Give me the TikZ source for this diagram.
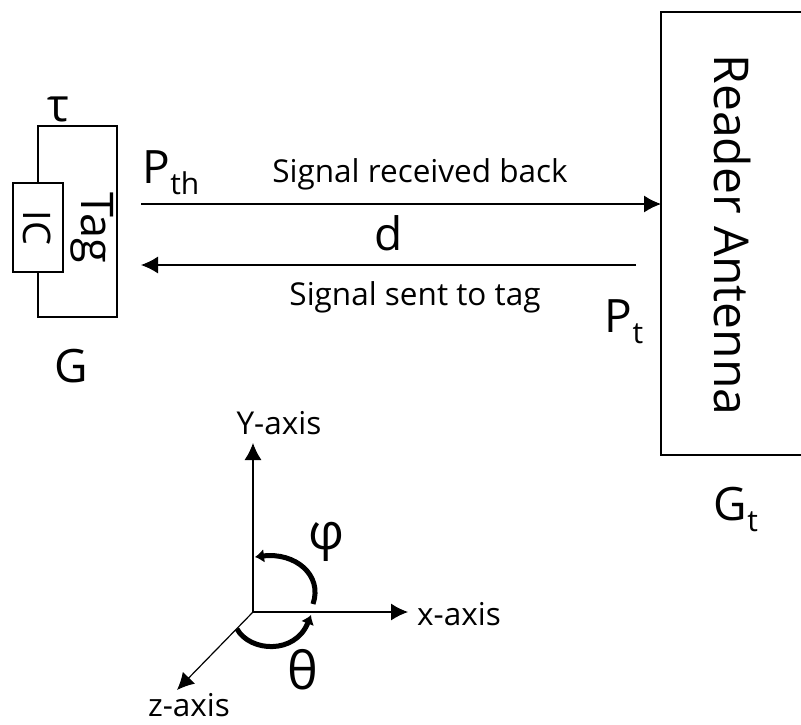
\documentclass[tikz,border=0pt]{standalone}
\usepackage{fontspec}
\setmainfont{Open Sans}
\usetikzlibrary{arrows.meta}
\pgfdeclarelayer{edgelayer}
\pgfdeclarelayer{nodelayer}
\pgfsetlayers{edgelayer,nodelayer,main}
\newcommand{\lowtext}[1]{\raisebox{-11pt}{\fontsize{30}{30}\selectfont #1}}
\tikzstyle{box}=[rectangle, draw=black, line width=2pt, inner sep=0pt]
\tikzstyle{wire}=[-, draw=black, line width=2pt]
\tikzstyle{arrow}=[-{Latex[length=17pt,width=17pt]}, draw=black, line width=1.2pt]
\tikzstyle{curl}=[-{Latex[length=9pt,width=14pt]}, draw=black, line width=5pt]
\tikzstyle{big}=[inner sep=0pt, font=\fontsize{46}{46}\selectfont]
\tikzstyle{small}=[inner sep=0pt, font=\fontsize{31.5}{31.5}\selectfont]
\begin{document}
\begin{tikzpicture}[x=1pt,y=-1pt]
            \useasboundingbox (0,0) rectangle (801,724);
            \begin{pgfonlayer}{nodelayer}
                \node [style=box, minimum width=50pt, minimum height=89pt] (IC) at (38, 227.5) {};
                \node [style=box, minimum width=146pt, minimum height=443pt] (reader) at (734, 233.5) {};
                \node [style=small, rotate=-90] (IClabel) at (37, 228) {\fontsize{38}{38}\selectfont IC};
                \node [style=small, rotate=-90] (taglabel) at (92, 228) {\fontsize{45}{45}\selectfont Tag};
                \node [style=big, rotate=-90] (readerlabel) at (732, 235) {\fontsize{48}{48}\selectfont Reader Antenna};
                \node [style=big] (tau) at (58, 109) {τ};
                \node [style=big] (Pth) at (171, 173) {P\lowtext{th}};
                \node [style=big] (Pt) at (624, 322) {P\lowtext{t}};
                \node [style=big] (G) at (71, 366) {G};
                \node [style=big] (Gt) at (736, 509) {G\lowtext{t}};
                \node [style=big] (d) at (389, 233) {d};
                \node [style=small] (back) at (420, 174) {Signal received back};
                \node [style=small] (sent) at (415, 297) {Signal sent to tag};
                \node [style=small] (ylabel) at (279, 423) {Y-axis};
                \node [style=small] (xlabel) at (459, 614) {x-axis};
                \node [style=small] (zlabel) at (189, 705) {z-axis};
                \node [style=big] (phi) at (326, 542) {\fontsize{50}{50}\selectfont φ};
                \node [style=big] (theta) at (303, 670) {\fontsize{52}{52}\selectfont θ};
                \coordinate (tagtop) at (117, 126);
                \coordinate (tagbottom) at (117, 317);
                \coordinate (backstart) at (141, 204);
                \coordinate (backend) at (661, 204);
                \coordinate (sentstart) at (636, 265);
                \coordinate (sentend) at (141, 265);
                \coordinate (origin) at (253, 612);
                \coordinate (ytip) at (253, 443);
                \coordinate (xtip) at (408, 612);
                \coordinate (ztip) at (177, 690);
                \coordinate (phistart) at (313, 604);
                \coordinate (phiend) at (255, 557);
                \coordinate (thetastart) at (237, 629);
                \coordinate (thetaend) at (311, 615);
            \end{pgfonlayer}
            \begin{pgfonlayer}{edgelayer}
                \draw [style=wire] (IC.north) |- (tagtop) -- (tagbottom) -| (IC.south);
                \draw [style=arrow] (backstart) to (backend);
                \draw [style=arrow] (sentstart) to (sentend);
                \draw [style=arrow] (origin) to (ytip);
                \draw [style=arrow] (origin) to (xtip);
                \draw [style=arrow] (origin) to (ztip);
                \draw [style=curl] (phistart) .. controls (323, 575) and (295, 552) .. (phiend);
                \draw [style=curl] (thetastart) .. controls (250, 652) and (295, 655) .. (thetaend);
            \end{pgfonlayer}
        \end{tikzpicture}
\end{document}
